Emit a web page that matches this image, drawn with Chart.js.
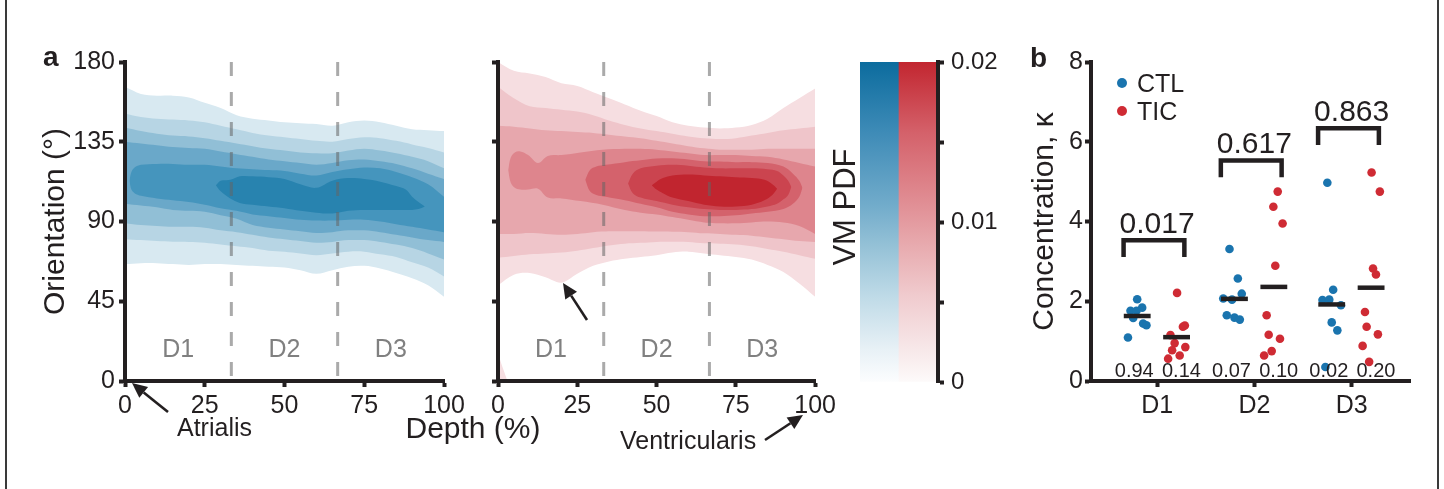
<!DOCTYPE html>
<html>
<head>
<meta charset="utf-8">
<script src="https://cdn.jsdelivr.net/npm/chart.js@4.4.1/dist/chart.umd.min.js"></script>
<style>
  body { margin: 0; background: #fff; }
  #fig { position: relative; width: 1444px; height: 489px; overflow: hidden;
         font-family: 'Liberation Sans', Arial, sans-serif; color: #231f20; }
  .box { position: absolute; top: 0; height: 489px; }
  .txt { position: absolute; white-space: nowrap; line-height: 1; }
  .frame { position: absolute; top: 0; width: 2px; height: 489px; background: #3a3a3a; }
  .dot { position: absolute; width: 10px; height: 10px; border-radius: 50%; }
</style>
</head>
<body>
<div id="fig">
  <div class="frame" style="left:5px"></div>
  <div class="frame" style="left:1437px"></div>

  <div class="box" style="left:0;width:470px"><canvas id="ctl"></canvas></div>
  <div class="box" style="left:470px;width:370px"><canvas id="tic"></canvas></div>
  <div class="box" style="left:840px;width:160px"><canvas id="bar"></canvas></div>
  <div class="box" style="left:980px;width:464px"><canvas id="kappa"></canvas></div>

  <div class="txt" style="left:43px;top:43px;font-size:28px;font-weight:bold">a</div>
  <div class="txt" style="left:1030px;top:44px;font-size:28px;font-weight:bold">b</div>
  <div class="txt" style="left:473px;top:413px;font-size:30px;transform:translateX(-50%)">Depth (%)</div>
  <div class="txt" style="left:177px;top:415px;font-size:25px">Atrialis</div>
  <div class="txt" style="left:620px;top:428px;font-size:25px">Ventricularis</div>
  <div class="txt" style="left:844px;top:207px;font-size:31px;transform:translate(-50%,-50%) rotate(-90deg)">VM PDF</div>

  <div class="dot" style="left:1117px;top:78px;background:#1a74ae"></div>
  <div class="txt" style="left:1137px;top:71px;font-size:25px">CTL</div>
  <div class="dot" style="left:1117px;top:106px;background:#cf2b34"></div>
  <div class="txt" style="left:1137px;top:99px;font-size:25px">TIC</div>

  <svg id="arrows" width="1444" height="489" style="position:absolute;left:0;top:0;pointer-events:none"></svg>
</div>

<script>
// ---- panel a : contour bands of the VM PDF (orientation vs depth) ----
const depthGrid = [0, 5, 10, 15, 20, 25, 30, 35, 40, 45, 50, 55, 60, 65, 70, 75, 80, 85, 90, 95, 100];
const regionBounds = [100 / 3, 200 / 3];
const regionNames = ['D1', 'D2', 'D3'];

// CTL (blue), outer band first
const ctlBand1Upper = [166, 162, 161, 161, 160, 157, 154, 150, 148, 147, 146, 145.5, 145, 144, 146, 147, 146, 144, 142, 141.5, 141];
const ctlBand1Lower = [66, 66.5, 66.5, 66, 65.5, 66, 66, 65.5, 65, 64.5, 64, 62.5, 60.5, 62.5, 64.5, 65, 63.5, 61, 58, 54, 47.5];
const ctlBand2Upper = [151, 149, 148, 147.5, 147, 146, 144, 142, 140, 138.5, 137.5, 136.5, 135.5, 135, 136.5, 137.5, 137, 135.5, 133.5, 131.5, 129];
const ctlBand2Lower = [80, 79.5, 79, 78.6, 78.5, 78, 77, 76, 75, 73.5, 73, 72, 71, 72, 73, 73, 71.5, 70, 67, 64, 59];
const ctlBand3Upper = [143, 141, 139.5, 138.5, 138, 137, 135.5, 134, 132.5, 131, 130, 129, 128.5, 128.5, 130, 131, 130, 128.5, 126.5, 124, 120];
const ctlBand3Lower = [89, 88, 87.5, 87, 87, 86.5, 85, 84, 82.5, 81, 80, 79, 78, 78.5, 79.5, 79.5, 78.5, 77, 75, 72, 68.5];
const ctlBand4Upper = [135, 134, 133, 132, 131.5, 131, 129.5, 128, 126.5, 125, 124, 123, 122, 123, 124.5, 125, 124, 122.5, 120, 117, 114];
const ctlBand4Lower = [100, 99, 98, 96.5, 96, 95.5, 93.5, 91.5, 88, 86.5, 85.5, 84.5, 83.5, 84, 85, 85, 84, 82.5, 81, 79.5, 78.5];
const ctlBand5Depth = [1.4, 2, 3, 5, 10, 15, 20, 25, 30, 35, 40, 45, 50, 55, 60, 65, 70, 75, 80, 85, 90, 95, 100];
const ctlBand5Upper = [113, 118, 120.5, 122, 122.5, 122.5, 122, 122, 121, 120, 119.5, 119, 118.5, 117, 116, 118, 119.5, 120.5, 120, 118, 115, 111, 104];
const ctlBand5Lower = [113, 108, 106, 104.5, 103, 102, 101, 99.5, 97.5, 96, 94, 93, 92, 91, 90.5, 90.5, 91, 91, 90, 88.5, 87, 85.5, 84];
const ctlBand6Depth = [28.5, 30, 33, 36, 40, 45, 50, 55, 60, 65, 70, 75, 80, 85, 88, 90, 92, 94];
const ctlBand6Upper = [110.5, 113, 113.5, 115.5, 115.5, 115, 114, 111, 109, 113, 114.5, 114, 112.5, 110, 108, 104, 101, 98.5];
const ctlBand6Lower = [110.5, 107, 103, 100.5, 99.5, 98.5, 97.5, 96, 95, 94.5, 96, 96.5, 96.5, 96.5, 96.5, 96.5, 97, 98.5];

// TIC (red), outer band first
const ticBand1Upper = [180, 175, 173.5, 171.5, 168, 166.5, 163, 159.5, 156, 152.5, 149.5, 146, 144, 143, 142.5, 143, 144.5, 148, 154, 159.5, 165];
const ticBand1Lower = [54, 60, 61, 58.5, 55.5, 60.5, 65, 67.5, 69, 70, 71, 72.5, 73, 72, 71, 70, 68.5, 65.5, 61.5, 55, 47.5];
const ticWrapDepth = [0, 1, 2, 3];
const ticWrapUpper = [16, 10, 5, 0];
const ticWrapLower = [0, 0, 0, 0];
const ticBand2Upper = [166, 159.5, 155, 154, 153, 152, 150, 147, 144.5, 142.5, 141, 139.5, 138, 137, 136.5, 137, 138.5, 140, 141.5, 142.5, 143.5];
const ticBand2Lower = [69.5, 70.5, 71.5, 72, 72.5, 73.5, 75, 76.5, 77.5, 78, 78.5, 78.6, 78.5, 77.7, 77.5, 77, 76, 74.5, 73, 71, 69];
const ticBand3Upper = [144, 143.5, 142.5, 141.5, 141, 140.5, 140, 139, 138, 137, 135.5, 134, 132.5, 131.3, 130.5, 130.5, 130.5, 131, 131, 131, 131];
const ticBand3Lower = [83, 83, 83.5, 83, 82.5, 83, 84, 84.5, 84.5, 84.5, 84.3, 84.2, 84, 83.3, 83, 82.5, 82, 81, 80, 79, 78.5];
const ticBand4Depth = [3.2, 4, 5.3, 7, 9.5, 12.6, 15.7, 20, 26, 33, 40, 45, 50, 55, 60, 65, 70, 75, 80, 85, 90, 95, 100];
const ticBand4Upper = [119, 126, 129, 129.5, 127.5, 123, 127, 127.5, 129, 130.5, 131, 131, 130.5, 129.5, 128.5, 127.5, 127.5, 127.5, 127, 126.5, 125, 123, 121];
const ticBand4Lower = [119, 112, 109, 108, 108, 108.5, 103.5, 103, 101.5, 99.5, 96.5, 95, 94, 92.5, 91, 89.5, 89, 89, 89.5, 90, 89.5, 87.5, 83];
const ticBand5Depth = [27.5, 29, 31, 34, 40, 45, 50, 55, 60, 65, 70, 75, 80, 85, 90, 93, 95, 96];
const ticBand5Upper = [113.5, 119, 121, 122, 123.5, 124.5, 125.5, 125.7, 125, 124, 123.8, 123.5, 123.5, 123, 121, 117, 113, 109];
const ticBand5Lower = [113.5, 107, 105, 104, 102, 100, 98, 95.5, 94, 93, 93, 93.5, 94.5, 95.5, 97, 100, 104, 109];
const ticBand6Depth = [41, 42.5, 45, 50, 55, 60, 65, 70, 75, 80, 85, 88, 90, 91.5, 92.5];
const ticBand6Upper = [111.5, 117, 120, 121.5, 122, 121.5, 120.5, 120, 120, 120, 119.5, 118.5, 116, 113, 109.5];
const ticBand6Lower = [111.5, 106, 103.5, 101.5, 99.5, 98, 97, 96.5, 96.5, 97, 98.5, 100, 102.5, 105, 109.5];
const ticBand7Depth = [48.5, 50, 52, 55, 60, 65, 70, 75, 80, 84, 86.5, 88];
const ticBand7Upper = [110.5, 112.5, 114.5, 116, 116.5, 116, 115.5, 115, 114.5, 113.5, 111, 108.5];
const ticBand7Lower = [110.5, 108, 106, 103.5, 101.5, 99.5, 98.5, 98.5, 99.5, 102, 105, 108.5];

// ---- colour bar ----
const pdfTicks = [0, 0.005, 0.01, 0.015, 0.02];
const pdfTickLabels = ['0', '', '0.01', '', '0.02'];

// ---- panel b : concentration per depth region ----
const categories = ['D1', 'D2', 'D3'];
const ctlKappa = [
  [2.05, 1.84, 1.76, 1.76, 1.58, 1.44, 1.40, 1.09],
  [3.31, 2.57, 2.19, 2.07, 2.04, 1.65, 1.59, 1.54],
  [4.97, 2.29, 2.03, 2.04, 1.90, 1.47, 1.27, 0.35]
];
const ctlJitter = [
  [-0.205, -0.154, -0.274, -0.212, -0.246, -0.144, -0.11, -0.30],
  [-0.256, -0.17, -0.13, -0.32, -0.23, -0.284, -0.205, -0.15],
  [-0.25, -0.19, -0.30, -0.23, -0.11, -0.205, -0.147, -0.27]
];
const ticKappa = [
  [2.21, 1.36, 1.39, 1.15, 0.95, 0.77, 0.85, 0.64, 0.56],
  [4.75, 4.37, 3.95, 2.89, 1.65, 1.16, 1.06, 0.75, 0.64],
  [5.23, 4.75, 2.82, 2.67, 1.73, 1.36, 1.17, 0.88, 0.48]
];
const ticJitter = [
  [0.205, 0.265, 0.285, 0.137, 0.18, 0.154, 0.29, 0.232, 0.113],
  [0.24, 0.195, 0.29, 0.215, 0.126, 0.147, 0.263, 0.178, 0.10],
  [0.205, 0.29, 0.22, 0.25, 0.137, 0.154, 0.27, 0.113, 0.18]
];
const ctlMean = [1.63, 2.06, 1.92];
const ticMean = [1.10, 2.36, 2.34];
const pValues = ['0.017', '0.617', '0.863'];
const bracketTop = [3.53, 5.53, 6.34];
const ctlStat = ['0.94', '0.07', '0.02'];
const ticStat = ['0.14', '0.10', '0.20'];

const INK = '#231f20';
const FONT = "'Liberation Sans', Arial, sans-serif";
Chart.defaults.font.family = FONT;
Chart.defaults.color = INK;
Chart.defaults.animation = false;
Chart.defaults.plugins.legend.display = false;
Chart.defaults.plugins.tooltip.enabled = false;

const blues = ['rgb(216,233,241)', 'rgb(183,213,228)', 'rgb(145,191,214)', 'rgb(106,168,201)', 'rgb(69,149,189)', 'rgb(40,131,175)'];
const reds = ['rgb(246,222,225)', 'rgb(239,197,202)', 'rgb(231,167,173)', 'rgb(222,133,141)', 'rgb(212,98,108)', 'rgb(203,68,79)', 'rgb(193,37,47)'];

const ctlBands = [
  [depthGrid, ctlBand1Upper, ctlBand1Lower, 0],
  [depthGrid, ctlBand2Upper, ctlBand2Lower, 1],
  [depthGrid, ctlBand3Upper, ctlBand3Lower, 2],
  [depthGrid, ctlBand4Upper, ctlBand4Lower, 3],
  [ctlBand5Depth, ctlBand5Upper, ctlBand5Lower, 4],
  [ctlBand6Depth, ctlBand6Upper, ctlBand6Lower, 5]
];
const ticBands = [
  [depthGrid, ticBand1Upper, ticBand1Lower, 0],
  [ticWrapDepth, ticWrapUpper, ticWrapLower, 0],
  [depthGrid, ticBand2Upper, ticBand2Lower, 1],
  [depthGrid, ticBand3Upper, ticBand3Lower, 2],
  [ticBand4Depth, ticBand4Upper, ticBand4Lower, 3],
  [ticBand5Depth, ticBand5Upper, ticBand5Lower, 4],
  [ticBand6Depth, ticBand6Upper, ticBand6Lower, 5],
  [ticBand7Depth, ticBand7Upper, ticBand7Lower, 6]
];

// axes drawn above the filled bands
function axisStyle(extra) {
  return Object.assign({
    grid: { display: true, drawOnChartArea: false, drawTicks: true, tickLength: 6, tickWidth: 4, tickColor: INK, z: 2 },
    border: { display: true, width: 4, color: INK, z: 2 }
  }, extra);
}

const regionLabels = {
  id: 'regionLabels',
  afterDatasetsDraw(chart) {
    const { ctx, scales: { x, y } } = chart;
    const edges = [0, ...regionBounds, 100];
    ctx.save();
    ctx.font = '25px ' + FONT;
    ctx.fillStyle = '#808080';
    ctx.textAlign = 'center';
    ctx.textBaseline = 'middle';
    regionNames.forEach((n, i) => {
      ctx.fillText(n, x.getPixelForValue((edges[i] + edges[i + 1]) / 2), y.getPixelForValue(17.5));
    });
    ctx.restore();
  }
};

function contourChart(id, bands, colors, yWidth, rightPad, showLabels) {
  const datasets = [];
  bands.forEach(([depth, upper, lower, level], k) => {
    const common = { borderColor: 'rgba(0,0,0,0)', borderWidth: 0, pointRadius: 0, tension: 0.35, order: 100 - k };
    datasets.push(Object.assign({ data: depth.map((d, i) => ({ x: d, y: upper[i] })), fill: '+1', backgroundColor: colors[level] }, common));
    datasets.push(Object.assign({ data: depth.map((d, i) => ({ x: d, y: lower[i] })), fill: false }, common));
  });
  regionBounds.forEach(b => datasets.push({
    data: [{ x: b, y: 180 }, { x: b, y: 0 }], fill: false, pointRadius: 0, order: 0,
    borderColor: 'rgba(100,100,100,0.55)', borderWidth: 3, borderDash: [14, 16]
  }));
  return new Chart(document.getElementById(id), {
    type: 'line',
    data: { datasets },
    options: {
      responsive: true, maintainAspectRatio: false,
      layout: { padding: { left: 0, right: rightPad, top: 62, bottom: 68 } },
      scales: {
        x: axisStyle({ type: 'linear', min: 0, max: 100,
          ticks: { stepSize: 25, padding: 4, font: { size: 25 }, color: INK, z: 2 },
          afterFit: s => { s.height = 40; } }),
        y: axisStyle({ type: 'linear', min: 0, max: 180,
          ticks: { stepSize: 45, padding: 4, font: { size: 25 }, color: INK, z: 2,
                   callback: v => showLabels ? v : '' },
          title: { display: showLabels, text: 'Orientation (°)', font: { size: 30 }, color: INK, padding: { top: 38, bottom: 0 } },
          afterFit: s => { s.width = yWidth; } })
      }
    },
    plugins: [regionLabels]
  });
}

contourChart('ctl', ctlBands, blues, 125, 26, true);
contourChart('tic', ticBands, reds, 28, 22, false);

// ---- colour bar ----
function barGradient(c) {
  const ca = c.chart.chartArea;
  if (!ca) return 'rgba(0,0,0,0)';
  const g = c.chart.ctx.createLinearGradient(0, ca.bottom, 0, ca.top);
  const stops = c.dataIndex === 0
    ? ['rgb(252,253,254)', 'rgb(232,241,246)', 'rgb(190,218,231)', 'rgb(150,194,215)', 'rgb(114,172,203)', 'rgb(62,139,183)', 'rgb(12,108,158)']
    : ['rgb(253,250,250)', 'rgb(247,232,233)', 'rgb(240,203,206)', 'rgb(232,172,176)', 'rgb(225,144,150)', 'rgb(212,97,106)', 'rgb(194,38,48)'];
  const pos = [0, 0.1, 0.27, 0.42, 0.55, 0.78, 1];
  stops.forEach((s, i) => g.addColorStop(pos[i], s));
  return g;
}
new Chart(document.getElementById('bar'), {
  type: 'bar',
  data: { labels: ['CTL', 'TIC'], datasets: [{ data: [pdfTicks[pdfTicks.length - 1], pdfTicks[pdfTicks.length - 1]],
    backgroundColor: barGradient, borderWidth: 0, categoryPercentage: 1, barPercentage: 1 }] },
  options: {
    responsive: true, maintainAspectRatio: false,
    layout: { padding: { left: 20, right: 0, top: 62, bottom: 107 } },
    scales: {
      x: { display: false },
      y: axisStyle({ position: 'right', min: 0, max: 0.02,
        afterBuildTicks: s => { s.ticks = pdfTicks.map(v => ({ value: v })); },
        ticks: { padding: 7, font: { size: 24 }, color: INK, z: 2, callback: (v, i) => pdfTickLabels[i] },
        afterFit: s => { s.width = 62; } })
    }
  }
});

// ---- panel b ----
const BR_L = -0.345, BR_R = 0.28, BR_LEG = 0.42, MEAN_HALF = 0.138;
function points(vals, jit) {
  return vals.flatMap((row, i) => row.map((v, j) => ({ x: i + 1 + jit[i][j], y: v })));
}
const kDatasets = [
  { data: points(ctlKappa, ctlJitter), pointRadius: 4.3, pointBorderWidth: 0, pointBackgroundColor: '#1a74ae', order: 5 },
  { data: points(ticKappa, ticJitter), pointRadius: 4.3, pointBorderWidth: 0, pointBackgroundColor: '#cf2b34', order: 5 }
];
const lineStyle = { showLine: true, pointRadius: 0, borderColor: INK, borderWidth: 4.5, borderCapStyle: 'butt', borderJoinStyle: 'miter', fill: false, order: 1 };
categories.forEach((c, i) => {
  const cx = i + 1;
  kDatasets.push(Object.assign({ data: [{ x: cx - 0.205 - MEAN_HALF, y: ctlMean[i] }, { x: cx - 0.205 + MEAN_HALF, y: ctlMean[i] }] }, lineStyle));
  kDatasets.push(Object.assign({ data: [{ x: cx + 0.2 - MEAN_HALF, y: ticMean[i] }, { x: cx + 0.2 + MEAN_HALF, y: ticMean[i] }] }, lineStyle));
  kDatasets.push(Object.assign({ data: [
    { x: cx + BR_L, y: bracketTop[i] - BR_LEG }, { x: cx + BR_L, y: bracketTop[i] },
    { x: cx + BR_R, y: bracketTop[i] }, { x: cx + BR_R, y: bracketTop[i] - BR_LEG }] }, lineStyle));
});

const statText = {
  id: 'statText',
  afterDatasetsDraw(chart) {
    const { ctx, scales: { x, y } } = chart;
    ctx.save();
    ctx.fillStyle = INK;
    ctx.textAlign = 'center';
    ctx.textBaseline = 'alphabetic';
    ctx.font = '30px ' + FONT;
    pValues.forEach((p, i) => ctx.fillText(p, x.getPixelForValue(i + 1), y.getPixelForValue(bracketTop[i]) - 7));
    ctx.font = '20px ' + FONT;
    ctlStat.forEach((s, i) => ctx.fillText(s, x.getPixelForValue(i + 1 - 0.235), y.bottom - 4));
    ticStat.forEach((s, i) => ctx.fillText(s, x.getPixelForValue(i + 1 + 0.25), y.bottom - 4));
    ctx.restore();
  }
};

new Chart(document.getElementById('kappa'), {
  type: 'scatter',
  data: { datasets: kDatasets },
  options: {
    responsive: true, maintainAspectRatio: false,
    layout: { padding: { left: 0, right: 34, top: 62, bottom: 68 } },
    scales: {
      x: axisStyle({ type: 'linear', min: 0.32, max: 3.6,
        afterBuildTicks: s => { s.ticks = categories.map((c, i) => ({ value: i + 1 })); },
        ticks: { padding: 4, font: { size: 25 }, color: INK, z: 2, callback: (v, i) => categories[i] },
        afterFit: s => { s.height = 40; } }),
      y: axisStyle({ type: 'linear', min: 0, max: 8,
        ticks: { stepSize: 2, padding: 2, font: { size: 25 }, color: INK, z: 2 },
        title: { display: true, text: 'Concentration, κ', font: { size: 30 }, color: INK, padding: { top: 47, bottom: 0 } },
        afterFit: s => { s.width = 111; } })
    }
  },
  plugins: [statText]
});

// ---- annotation arrows ----
function arrow(x1, y1, x2, y2) {
  const ang = Math.atan2(y2 - y1, x2 - x1), L = 15, W = 7;
  const bx = x2 - L * Math.cos(ang), by = y2 - L * Math.sin(ang);
  const nx = -Math.sin(ang) * W, ny = Math.cos(ang) * W;
  return `<line x1="${x1}" y1="${y1}" x2="${bx}" y2="${by}" stroke="${INK}" stroke-width="2.6"/>` +
    `<polygon points="${x2},${y2} ${bx + nx},${by + ny} ${bx - nx},${by - ny}" fill="${INK}"/>`;
}
document.getElementById('arrows').innerHTML =
  arrow(168, 412, 132, 383) + arrow(765, 440, 803, 415) + arrow(587, 320, 563, 283);
</script>
</body>
</html>
